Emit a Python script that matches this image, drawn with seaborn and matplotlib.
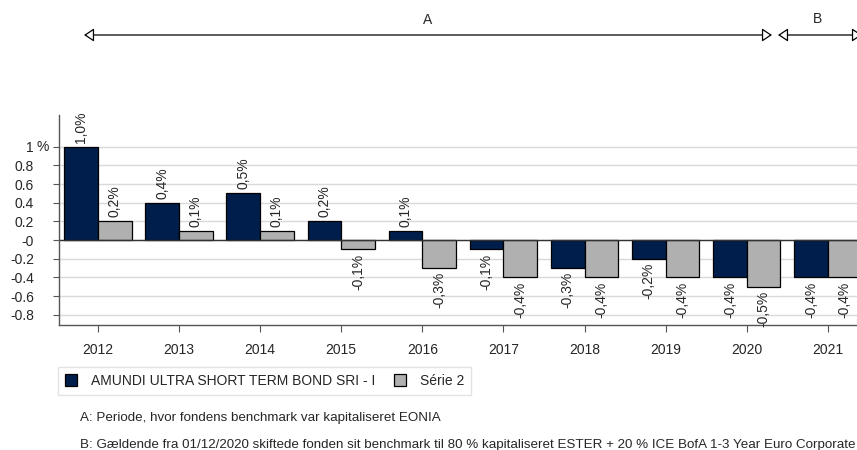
import matplotlib
matplotlib.use("Agg")
import matplotlib.pyplot as plt
import seaborn as sns
import pandas as pd

# Data
years = ["2012", "2013", "2014", "2015", "2016", "2017", "2018", "2019", "2020", "2021"]
fund = [1.0, 0.4, 0.5, 0.2, 0.1, -0.1, -0.3, -0.2, -0.4, -0.4]
bench = [0.2, 0.1, 0.1, -0.1, -0.3, -0.4, -0.4, -0.4, -0.5, -0.4]
series_names = ["AMUNDI ULTRA SHORT TERM BOND SRI - I", "Série 2"]
colors = ["#001e4b", "#b0b0b0"]
yticks = [-0.8, -0.6, -0.4, -0.2, 0, 0.2, 0.4, 0.6, 0.8, 1]
ytick_labels = ["-0.8", "-0.6", "-0.4", "-0.2", "-0", "0.2", "0.4", "0.6", "0.8", "1"]

df = pd.DataFrame({
    "year": years * 2,
    "value": fund + bench,
    "series": [series_names[0]] * len(years) + [series_names[1]] * len(years),
})

sns.set_style("white")
plt.rcParams["font.family"] = ["Liberation Sans", "DejaVu Sans"]
plt.rcParams["font.size"] = 10

fig = plt.figure(figsize=(8.57, 4.5), dpi=100)
ax = fig.add_axes([59 / 857, 1 - 325 / 450, 1 - 59 / 857, (325 - 115) / 450])

sns.barplot(data=df, x="year", y="value", hue="series", hue_order=series_names,
            palette=colors, width=0.83, edgecolor="black", linewidth=0.9,
            saturation=1, ax=ax)

for cont in ax.containers:
    labels = [f"{v:.1f}".replace(".", ",") + "%" for v in cont.datavalues]
    ax.bar_label(cont, labels=labels, rotation=90, padding=3, fontsize=10)

ax.set_xlim(-0.48, 9.36)
ax.set_ylim(-0.91, 1.34)
ax.set_yticks(yticks)
ax.set_yticklabels(ytick_labels)
ax.set_xlabel("")
ax.set_ylabel("")
ax.grid(axis="y", color="#d9d9d9", lw=1)
ax.set_axisbelow(True)
ax.axhline(0, color="#333333", lw=1, zorder=1.5)

for s in ["top", "right"]:
    ax.spines[s].set_visible(False)
for s in ["left", "bottom"]:
    ax.spines[s].set_color("#555555")
    ax.spines[s].set_linewidth(1)

ax.tick_params(axis="y", left=True, length=4, pad=14, labelsize=10, color="#555555")
ax.tick_params(axis="x", bottom=True, length=5, pad=8, labelsize=10, color="#555555")
ax.annotate("%", xy=(0, 1), xycoords=ax.get_yaxis_transform(), xytext=(-7.5, 0),
            textcoords="offset points", ha="right", va="center", fontsize=10)

# legend below the plot
sns.move_legend(ax, loc="upper left", bbox_to_anchor=(58 / 857, 1 - 367 / 450),
                bbox_transform=fig.transFigure, ncol=2, title=None, frameon=True,
                fontsize=10, handlelength=0.9, handleheight=0.9, handletextpad=1.0,
                columnspacing=1.3, borderpad=0.5, borderaxespad=0, fancybox=False,
                edgecolor="#dddddd")

# period arrows at the top
arrow = dict(arrowstyle="<|-|>,head_length=0.6,head_width=0.4", fc="white",
             ec="black", lw=0.9, shrinkA=0, shrinkB=0)
fig.add_artist(plt.Annotation("", xy=(772 / 857, 1 - 35 / 450), xytext=(84 / 857, 1 - 35 / 450),
                              xycoords="figure fraction", arrowprops=arrow))
fig.add_artist(plt.Annotation("", xy=(862 / 857, 1 - 35 / 450), xytext=(778 / 857, 1 - 35 / 450),
                              xycoords="figure fraction", arrowprops=arrow))
fig.text(428 / 857, 1 - 20 / 450, "A", ha="center", va="center", fontsize=10)
fig.text(818 / 857, 1 - 19 / 450, "B", ha="center", va="center", fontsize=10)

# footnotes
fig.text(80 / 857, 1 - 418 / 450, "A: Periode, hvor fondens benchmark var kapitaliseret EONIA",
         ha="left", va="center", fontsize=9.6)
fig.text(80 / 857, 1 - 445 / 450,
         "B: Gældende fra 01/12/2020 skiftede fonden sit benchmark til 80 % kapitaliseret ESTER "
         "+ 20 % ICE BofA 1-3 Year Euro Corporate",
         ha="left", va="center", fontsize=9.6)

fig.savefig("out.png", dpi=100)
